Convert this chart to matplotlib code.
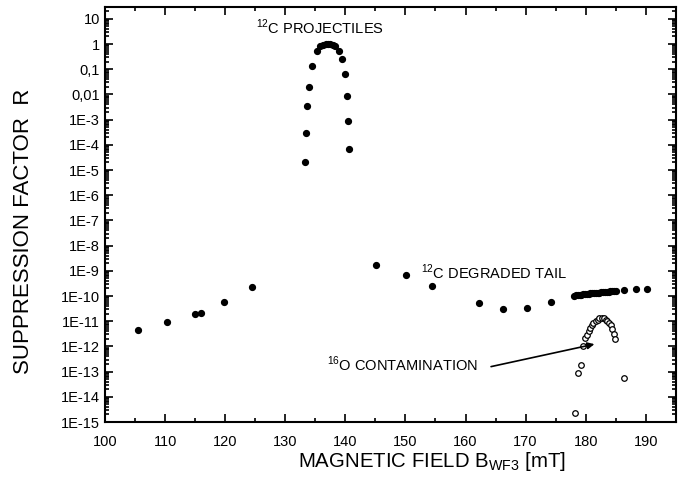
import matplotlib
matplotlib.use('Agg')
import matplotlib.pyplot as plt
from matplotlib.ticker import FixedLocator, MultipleLocator, LogLocator, NullFormatter

plt.rcParams['font.family'] = ['Liberation Sans', 'DejaVu Sans']
plt.rcParams['mathtext.fontset'] = 'custom'
plt.rcParams['mathtext.rm'] = 'Liberation Sans'

# 12C projectiles (main peak)
proj_b = [133.3, 133.4, 133.6, 133.9, 134.4, 135.3, 135.8, 136.3, 136.7, 137.1,
          137.5, 137.9, 138.2, 138.9, 139.4, 140.0, 140.2, 140.5, 140.6]
proj_r = [2.0e-5, 3.0e-4, 3.5e-3, 0.02, 0.14, 0.55, 0.8, 0.95, 1.0, 1.02,
          1.0, 0.95, 0.87, 0.55, 0.25, 0.063, 8.7e-3, 8.7e-4, 7.0e-5]

# 12C degraded tail
tail_b = [105.5, 110.35, 114.95, 115.9, 119.8, 124.5, 145.1, 150.1, 154.4,
          162.2, 166.2, 170.2, 174.2,
          178.1, 178.4, 178.7, 179.0, 179.3, 179.6, 179.9, 180.2, 180.5, 180.8,
          181.1, 181.4, 181.7, 182.0, 182.3, 182.6, 182.9, 183.2, 183.5, 183.8,
          184.1, 184.4, 184.7, 185.0,
          186.3, 188.3, 190.2]
tail_r = [4.4e-12, 9.7e-12, 2.0e-11, 2.2e-11, 5.6e-11, 2.3e-10, 1.7e-9, 6.9e-10, 2.5e-10,
          5.5e-11, 3.2e-11, 3.4e-11, 6.0e-11,
          1.0e-10, 1.05e-10, 1.1e-10, 1.12e-10, 1.15e-10, 1.18e-10, 1.2e-10, 1.22e-10,
          1.25e-10, 1.27e-10, 1.3e-10, 1.3e-10, 1.32e-10, 1.35e-10, 1.37e-10, 1.4e-10,
          1.42e-10, 1.45e-10, 1.47e-10, 1.5e-10, 1.52e-10, 1.55e-10, 1.58e-10, 1.6e-10,
          1.8e-10, 1.9e-10, 1.9e-10]

# 16O contamination
oxy_b = [178.3, 178.8, 179.2, 179.6, 179.9, 180.2, 180.5, 180.7, 181.0, 181.3,
         181.7, 182.0, 182.3, 182.7, 183.0, 183.3, 183.6, 183.9, 184.2, 184.4,
         184.7, 184.9, 186.3]
oxy_r = [2.3e-15, 8.7e-14, 1.9e-13, 1.0e-12, 2.1e-12, 2.95e-12, 4.0e-12, 5.2e-12,
         6.8e-12, 8.7e-12, 1.05e-11, 1.17e-11, 1.29e-11, 1.32e-11, 1.29e-11, 1.17e-11,
         1.05e-11, 8.7e-12, 6.8e-12, 5.0e-12, 3.2e-12, 2.0e-12, 5.7e-14]

ytick_vals = [10.0 ** e for e in range(1, -16, -1)]
ytick_labels = ['10', '1', '0,1', '0,01'] + ['1E-%d' % e for e in range(3, 16)]
xtick_vals = list(range(100, 200, 10))

fig = plt.figure(figsize=(6.91, 4.84), dpi=100)
ax = fig.add_axes([0.152, 0.128, 0.826, 0.858])

ax.plot(tail_b, tail_r, 'o', color='black', markersize=4.2, linestyle='none')
ax.plot(proj_b, proj_r, 'o', color='black', markersize=4.2, linestyle='none')
ax.plot(oxy_b, oxy_r, 'o', markerfacecolor='white', markeredgecolor='black',
        markeredgewidth=0.9, markersize=4.0, linestyle='none')

ax.set_yscale('log')
ax.set_xlim(100, 195)
ax.set_ylim(1e-15, 30)

ax.yaxis.set_major_locator(FixedLocator(ytick_vals))
ax.set_yticklabels(ytick_labels)
ax.yaxis.set_minor_locator(LogLocator(base=10, subs=range(2, 10), numticks=40))
ax.yaxis.set_minor_formatter(NullFormatter())
ax.set_xticks(xtick_vals)
ax.xaxis.set_minor_locator(MultipleLocator(5))

ax.tick_params(which='both', direction='in', top=True, right=True, labelsize=10.5, width=1.2)
ax.tick_params(which='major', length=6)
ax.tick_params(which='minor', length=3)
ax.tick_params(axis='x', pad=9)
for s in ax.spines.values():
    s.set_linewidth(1.5)

ax.set_xlabel('MAGNETIC FIELD B$_{\\mathrm{WF3}}$ [mT]', fontsize=14.7, va='center')
ax.xaxis.set_label_coords(0.573, -0.096)
ax.set_ylabel('SUPPRESSION FACTOR  R', fontsize=16, va='center')
ax.yaxis.set_label_coords(-0.143, 0.46)

ax.text(125.2, 4.7, '$^{\\mathrm{12}}$C PROJECTILES', fontsize=10.5, va='center', ha='left')
ax.text(152.6, 8.7e-10, '$^{\\mathrm{12}}$C DEGRADED TAIL', fontsize=10.5, va='center', ha='left')
ax.text(137.0, 1.9e-13, '$^{\\mathrm{16}}$O CONTAMINATION', fontsize=10.5, va='center', ha='left')
ax.annotate('', xy=(181.9, 1.3e-12), xytext=(163.8, 1.5e-13),
            arrowprops=dict(arrowstyle='-|>', color='black', lw=1.2, mutation_scale=10))

fig.savefig('out.png', dpi=100)
